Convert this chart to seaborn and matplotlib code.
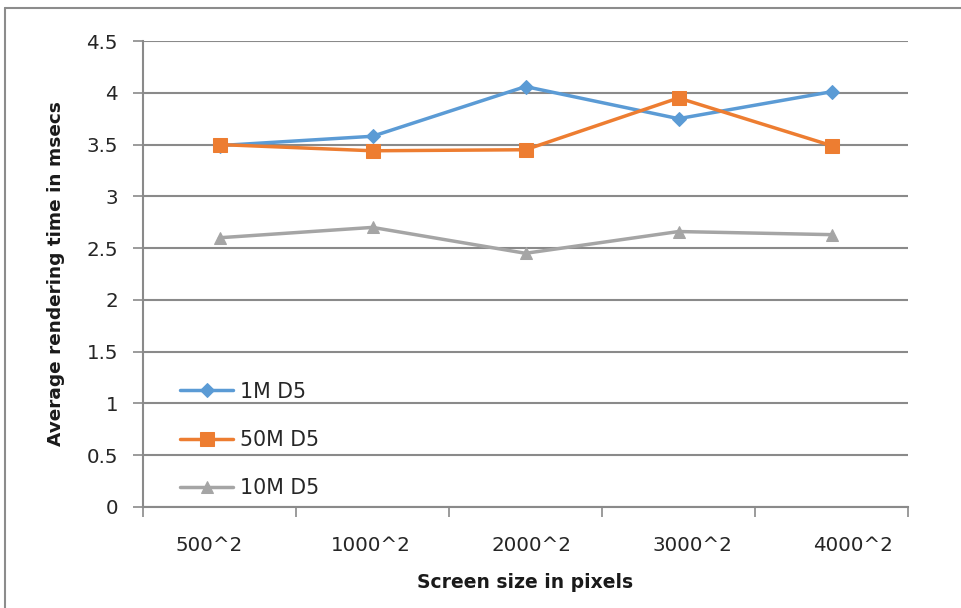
import matplotlib
matplotlib.use("Agg")
import matplotlib.pyplot as plt
from matplotlib.lines import Line2D
from matplotlib.ticker import FixedLocator
from matplotlib.transforms import ScaledTranslation
import seaborn as sns
import pandas as pd

# Screen sizes and average rendering times (msecs) per dataset
screen_sizes = ["500^2", "1000^2", "2000^2", "3000^2", "4000^2"]
series_names = ["1M D5", "50M D5", "10M D5"]
times_1m = [3.49, 3.58, 4.06, 3.75, 4.01]
times_50m = [3.50, 3.44, 3.45, 3.95, 3.49]
times_10m = [2.60, 2.70, 2.45, 2.66, 2.63]
y_ticks = [0, 0.5, 1, 1.5, 2, 2.5, 3, 3.5, 4, 4.5]
y_tick_labels = ["0", "0.5", "1", "1.5", "2", "2.5", "3", "3.5", "4", "4.5"]

colors = ["#5B9BD5", "#ED7D31", "#A5A5A5"]
markers = ["D", "s", "^"]
marker_sizes = [7, 10, 9]

rows = []
for name, vals in zip(series_names, [times_1m, times_50m, times_10m]):
    for i, (s, v) in enumerate(zip(screen_sizes, vals)):
        rows.append({"pos": i, "size": s, "time": v, "series": name})
df = pd.DataFrame(rows)

sns.set_style("white")
plt.rcParams["font.family"] = ["DejaVu Sans"]

fig = plt.figure(figsize=(9.61, 6.08), dpi=100)
ax = fig.add_axes([143 / 961, 1 - 507 / 608, (908 - 143) / 961, (507 - 41) / 608])

# outer chart border along the top and left edges
bx, by = 4.5 / 961, 1 - 8 / 608
fig.add_artist(Line2D([bx, 1.0], [by, by], transform=fig.transFigure,
                      color="#8C8C8C", linewidth=1.5))
fig.add_artist(Line2D([bx, bx], [0.0, by], transform=fig.transFigure,
                      color="#8C8C8C", linewidth=1.5))

for name, col, mk, ms in zip(series_names, colors, markers, marker_sizes):
    sub = df[df["series"] == name]
    sns.lineplot(data=sub, x="pos", y="time", ax=ax, color=col, linewidth=2.5,
                 marker=mk, markersize=ms, markeredgecolor=col, label=name,
                 zorder=3)

ax.set_xlim(-0.5, 4.5)
ax.set_ylim(0, 4.5)
ax.set_yticks(y_ticks)
ax.set_yticklabels(y_tick_labels)
ax.set_xticks(range(len(screen_sizes)))
ax.set_xticklabels(screen_sizes)
ax.xaxis.set_minor_locator(FixedLocator([-0.5, 0.5, 1.5, 2.5, 3.5, 4.5]))

ax.grid(axis="y", color="#8A8A8A", linewidth=1.5, zorder=0)
ax.set_axisbelow(True)
for sp in ["top", "right"]:
    ax.spines[sp].set_visible(False)
for sp in ["left", "bottom"]:
    ax.spines[sp].set_color("#8A8A8A")
    ax.spines[sp].set_linewidth(1.5)

ax.tick_params(axis="y", which="major", direction="out", length=7, width=1.2,
               color="#8A8A8A", labelsize=14.3, labelcolor="#262626", pad=11,
               left=True)
ax.tick_params(axis="x", which="major", length=0, labelsize=14.3,
               labelcolor="#262626", pad=21)
ax.tick_params(axis="x", which="minor", direction="out", length=7, width=1.2,
               color="#8A8A8A", bottom=True)

# category labels fan out slightly wider than the plotting columns
for i, lbl in enumerate(ax.get_xticklabels()):
    dx = (8 * (i - 2) + 6) / 100
    lbl.set_transform(lbl.get_transform() + ScaledTranslation(dx, 0, fig.dpi_scale_trans))

ax.set_xlabel("Screen size in pixels", fontsize=13.5, fontweight="bold",
              color="#1A1A1A")
ax.set_ylabel("Average rendering time in msecs", fontsize=13.3,
              fontweight="bold", color="#1A1A1A")
ax.xaxis.set_label_coords(0.5, -(573 - 507) / 466)
ax.yaxis.set_label_coords(-(143 - 65) / 765, 0.5)

leg = ax.legend(loc="lower left", bbox_to_anchor=((180 - 143) / 765, (507 - 498) / 466),
                frameon=False, fontsize=14.8, labelspacing=1.37,
                handlelength=2.6, handletextpad=0.3, borderaxespad=0,
                borderpad=0)
for t in leg.get_texts():
    t.set_color("#262626")

fig.savefig("out.png", dpi=100)
